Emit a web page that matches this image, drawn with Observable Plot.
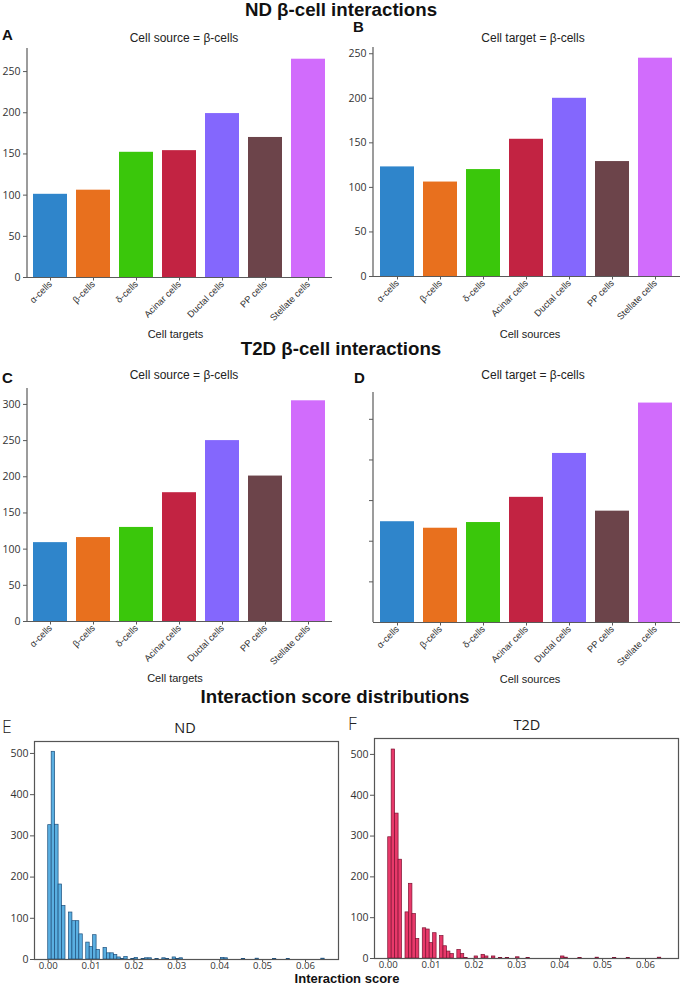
<!DOCTYPE html>
<html>
<head>
<meta charset="utf-8">
<script src="https://cdn.jsdelivr.net/npm/d3@7"></script>
<script src="https://cdn.jsdelivr.net/npm/@observablehq/plot@0.6"></script>
<style>
  html, body { margin: 0; padding: 0; background: #fff; }
  #root { position: relative; width: 681px; height: 986px; overflow: hidden; background: #fff; }
  #root > svg { position: absolute; }
</style>
</head>
<body>
<div id="root"></div>
<script>
// ---------- data ----------
const cells = ["α-cells", "β-cells", "δ-cells", "Acinar cells", "Ductal cells", "PP cells", "Stellate cells"];
const cellColors = ["#2f85cb", "#e8701e", "#3ac70b", "#c22342", "#8467fd", "#6c444a", "#d16cfc"];

const ndSourceBeta  = [101, 106, 152, 154, 199, 170, 265]; // A: targets of β-cells (ND)
const ndTargetBeta  = [123, 106, 120, 154, 200, 129, 245]; // B: sources to β-cells (ND)
const t2dSourceBeta = [109, 116, 130, 178, 250, 201, 305]; // C
const t2dTargetBeta = [124, 116, 123, 154, 208, 137, 270]; // D

const ticksA = [0, 50, 100, 150, 200, 250];
const ticksC = [0, 50, 100, 150, 200, 250, 300];
const ticksD = [50, 100, 150, 200, 250];
const countTicks = [0, 100, 200, 300, 400, 500];
const scoreTicks = [0, 0.01, 0.02, 0.03, 0.04, 0.05, 0.06];

// histogram: 80 bins over [0, 0.0645]
const binWidth = 0.000806;
const ndCounts = [
  326, 504, 327, 182, 130, 0, 114, 93, 93, 61,
  0, 41, 30, 59, 23, 0, 28, 15, 15, 11,
  5, 1, 6, 0, 1, 4, 0, 1, 3, 3,
  0, 1, 0, 3, 1, 0, 5, 1, 3, 0,
  0, 0, 0, 0, 0, 0, 0, 0, 0, 0,
  4, 3, 0, 0, 0, 0, 1, 0, 0, 0,
  2, 0, 0, 0, 0, 1, 0, 0, 0, 1,
  0, 0, 0, 0, 0, 0, 0, 0, 0, 2
];
const t2dCounts = [
  297, 512, 355, 242, 0, 113, 183, 109, 48, 0,
  74, 71, 38, 62, 0, 55, 30, 17, 11, 0,
  21, 11, 1, 0, 0, 5, 0, 9, 5, 0,
  5, 0, 1, 0, 1, 0, 0, 3, 0, 0,
  1, 0, 0, 0, 0, 0, 0, 0, 0, 0,
  5, 2, 0, 0, 0, 1, 0, 0, 0, 0,
  2, 0, 0, 0, 0, 1, 0, 0, 0, 1,
  0, 0, 0, 0, 0, 0, 0, 0, 2, 0
];

// ---------- helpers ----------
const root = document.getElementById("root");
const axisColor = "#5a5a5a";
const SVGNS = "http://www.w3.org/2000/svg";

function place(svg, left, top) {
  svg.style.left = left + "px";
  svg.style.top = top + "px";
  root.appendChild(svg);
}

// y-axis spine drawn from the plot's own dimensions
const ySpine = (index, scales, values, dims) => {
  const l = document.createElementNS(SVGNS, "line");
  l.setAttribute("x1", dims.marginLeft);
  l.setAttribute("x2", dims.marginLeft);
  l.setAttribute("y1", dims.marginTop);
  l.setAttribute("y2", dims.height - dims.marginBottom);
  l.setAttribute("stroke", axisColor);
  l.setAttribute("stroke-width", 1.2);
  return l;
};

function barPanel(values, o) {
  const data = cells.map((c, i) => ({cell: c, value: values[i]}));
  return Plot.plot({
    width: o.w, height: o.h,
    marginLeft: o.ml, marginRight: o.mr, marginTop: o.mt, marginBottom: o.mb,
    style: {background: "transparent", color: "#333", overflow: "visible"},
    x: {domain: cells, paddingInner: 0.2, paddingOuter: 0.1, label: null},
    y: {domain: [0, o.ymax], label: null},
    color: {domain: cells, range: cellColors},
    marks: [
      Plot.barY(data, {x: "cell", y: "value", fill: "cell"}),
      Plot.ruleY([0], {stroke: axisColor, strokeWidth: 1.2}),
      ySpine,
      Plot.axisY({
        ticks: o.ticks, tickSize: 4, tickPadding: 3,
        tickFormat: o.showY ? (d => String(d)) : (() => ""),
        fontSize: 10.5, fontFamily: "Open Sans", stroke: axisColor, fill: "#333", label: null
      }),
      Plot.axisX({
        tickRotate: -45, tickSize: 3.5, tickPadding: 1.5,
        fontSize: 9.3, fontFamily: "Liberation Sans", stroke: axisColor, fill: "#333", label: null
      })
    ]
  });
}

function histPanel(counts, o) {
  const data = counts
    .map((c, i) => ({x1: i * binWidth, x2: (i + 1) * binWidth, count: c}))
    .filter(d => d.count > 0);
  return Plot.plot({
    width: o.w, height: o.h,
    marginLeft: o.ml, marginRight: o.mr, marginTop: o.mt, marginBottom: o.mb,
    style: {background: "transparent", color: "#333", overflow: "visible"},
    x: {domain: [-0.0032, 0.0677], label: null},
    y: {domain: [0, o.ymax], label: null},
    marks: [
      Plot.rectY(data, {x1: "x1", x2: "x2", y: "count", fill: o.fill, stroke: o.edge, strokeWidth: 0.7}),
      Plot.frame({stroke: "#555", strokeWidth: 1.2}),
      Plot.axisY({ticks: countTicks, tickSize: 4, tickPadding: 2, fontSize: 10.5, fontFamily: "Open Sans",
                  stroke: "#555", fill: "#333", label: null}),
      Plot.axisX({ticks: scoreTicks, tickFormat: d3.format(".2f"), tickSize: 3, tickPadding: 0,
                  fontSize: 9.6, fontFamily: "Open Sans", stroke: "#555", fill: "#333", label: null})
    ]
  });
}

// ---------- panels ----------
place(barPanel(ndSourceBeta,  {w: 340, h: 290, ml: 27, mr: 8, mt: 8,  mb: 53, ymax: 278, ticks: ticksA, showY: true}), 0, 40);
place(barPanel(ndTargetBeta,  {w: 341, h: 290, ml: 33, mr: 1, mt: 7,  mb: 54, ymax: 257, ticks: ticksA, showY: true}), 340, 40);
place(barPanel(t2dSourceBeta, {w: 340, h: 290, ml: 27, mr: 8, mt: 8,  mb: 49, ymax: 322, ticks: ticksC, showY: true}), 0, 380);
place(barPanel(t2dTargetBeta, {w: 341, h: 290, ml: 33, mr: 1, mt: 12, mb: 48, ymax: 283, ticks: ticksD, showY: false}), 340, 380);

place(histPanel(ndCounts,  {w: 340, h: 256, ml: 34, mr: 2, mt: 11, mb: 27, ymax: 529, fill: "#5aafe1", edge: "#1d4f7c"}), 0, 730);
place(histPanel(t2dCounts, {w: 341, h: 256, ml: 34, mr: 3, mt: 8,  mb: 28, ymax: 539, fill: "#e8396a", edge: "#7d1232"}), 340, 730);

// ---------- text overlay ----------
const texts = [
  {t: "ND β-cell interactions", x: 341, y: 15.5, a: "middle", s: 18.7, w: "bold", f: "Liberation Sans", c: "#111"},
  {t: "T2D β-cell interactions", x: 341, y: 355, a: "middle", s: 18.7, w: "bold", f: "Liberation Sans", c: "#111"},
  {t: "Interaction score distributions", x: 335, y: 703, a: "middle", s: 18.7, w: "bold", f: "Liberation Sans", c: "#111"},
  {t: "A", x: 2, y: 40, a: "start", s: 15, w: "bold", f: "Liberation Sans", c: "#111"},
  {t: "B", x: 353, y: 32, a: "start", s: 15, w: "bold", f: "Liberation Sans", c: "#111"},
  {t: "C", x: 2, y: 382.7, a: "start", s: 15, w: "bold", f: "Liberation Sans", c: "#111"},
  {t: "D", x: 354, y: 382.7, a: "start", s: 15, w: "bold", f: "Liberation Sans", c: "#111"},
  {t: "Cell source = β-cells", x: 184, y: 42.3, a: "middle", s: 12, w: "normal", f: "Liberation Sans", c: "#222"},
  {t: "Cell target = β-cells", x: 533, y: 42.3, a: "middle", s: 12, w: "normal", f: "Liberation Sans", c: "#222"},
  {t: "Cell source = β-cells", x: 184, y: 379, a: "middle", s: 12, w: "normal", f: "Liberation Sans", c: "#222"},
  {t: "Cell target = β-cells", x: 533, y: 379, a: "middle", s: 12, w: "normal", f: "Liberation Sans", c: "#222"},
  {t: "Cell targets", x: 175.5, y: 338.3, a: "middle", s: 11, w: "normal", f: "Liberation Sans", c: "#222"},
  {t: "Cell sources", x: 530, y: 338.3, a: "middle", s: 11, w: "normal", f: "Liberation Sans", c: "#222"},
  {t: "Cell targets", x: 175, y: 681.7, a: "middle", s: 11, w: "normal", f: "Liberation Sans", c: "#222"},
  {t: "Cell sources", x: 530, y: 683, a: "middle", s: 11, w: "normal", f: "Liberation Sans", c: "#222"},
  {t: "E", x: 2, y: 733, a: "start", s: 17.5, w: "300", f: "Open Sans", c: "#222"},
  {t: "ND", x: 185, y: 732.7, a: "middle", s: 14.5, w: "normal", f: "Open Sans", c: "#222"},
  {t: "F", x: 348, y: 730, a: "start", s: 17.5, w: "300", f: "Open Sans", c: "#222"},
  {t: "T2D", x: 527, y: 730, a: "middle", s: 14.5, w: "normal", f: "Open Sans", c: "#222"},
  {t: "Interaction score", x: 347, y: 983, a: "middle", s: 13, w: "bold", f: "Liberation Sans", c: "#111"}
];
const overlay = d3.create("svg").attr("width", 681).attr("height", 986)
  .style("left", "0px").style("top", "0px").style("pointer-events", "none");
overlay.selectAll("text").data(texts).join("text")
  .attr("x", d => d.x).attr("y", d => d.y)
  .attr("text-anchor", d => d.a)
  .attr("font-size", d => d.s).attr("font-weight", d => d.w)
  .attr("font-family", d => d.f).attr("fill", d => d.c)
  .text(d => d.t);
root.appendChild(overlay.node());
</script>
</body>
</html>
